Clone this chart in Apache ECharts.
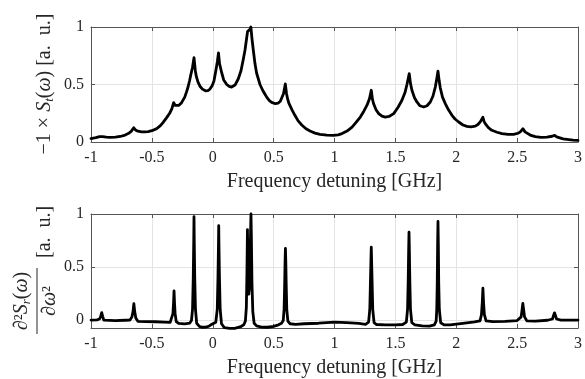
<!DOCTYPE html>
<html>
<head>
<meta charset="utf-8">
<script src="https://cdn.jsdelivr.net/npm/echarts@6.0.0/dist/echarts.min.js"></script>
<style>
html,body{margin:0;padding:0;background:#fff;}
#chart{width:585px;height:379px;}
</style>
</head>
<body>
<div id="chart"></div>
<script>
// ---- Data ----
var topFreq = [-1.0,-0.96,-0.93,-0.917,-0.905,-0.874,-0.844,-0.80,-0.76,-0.72,-0.694,-0.67,-0.649,-0.635,-0.614,-0.585,-0.559,-0.53,-0.50,-0.46,-0.43,-0.409,-0.38,-0.354,-0.337,-0.321,-0.308,-0.298,-0.28,-0.257,-0.23,-0.214,-0.203,-0.19,-0.181,-0.166,-0.154,-0.143,-0.135,-0.121,-0.105,-0.085,-0.06,-0.04,-0.023,-0.005,0.01,0.027,0.038,0.047,0.056,0.074,0.09,0.115,0.135,0.155,0.183,0.21,0.232,0.251,0.265,0.278,0.286,0.292,0.299,0.306,0.313,0.322,0.333,0.347,0.36,0.374,0.388,0.41,0.429,0.443,0.465,0.484,0.515,0.536,0.555,0.566,0.581,0.596,0.606,0.616,0.626,0.651,0.676,0.70,0.731,0.766,0.799,0.84,0.881,0.938,0.99,1.029,1.062,1.103,1.144,1.177,1.212,1.242,1.267,1.287,1.302,1.312,1.322,1.341,1.363,1.39,1.417,1.448,1.486,1.521,1.554,1.579,1.595,1.614,1.624,1.636,1.657,1.677,1.702,1.733,1.76,1.787,1.809,1.828,1.84,1.85,1.86,1.869,1.887,1.91,1.936,1.965,1.99,2.02,2.055,2.088,2.121,2.156,2.178,2.197,2.219,2.228,2.238,2.264,2.292,2.335,2.376,2.425,2.471,2.507,2.526,2.548,2.565,2.581,2.614,2.649,2.696,2.745,2.787,2.808,2.825,2.841,2.877,2.924,2.96,3.0];
var topSignal = [0.03,0.038,0.047,0.056,0.047,0.042,0.041,0.043,0.048,0.06,0.073,0.092,0.124,0.105,0.094,0.088,0.088,0.091,0.098,0.116,0.142,0.168,0.21,0.25,0.285,0.342,0.318,0.31,0.318,0.34,0.39,0.44,0.478,0.535,0.58,0.65,0.734,0.62,0.57,0.52,0.485,0.46,0.445,0.447,0.46,0.49,0.53,0.63,0.7,0.775,0.68,0.6,0.54,0.5,0.483,0.478,0.495,0.55,0.62,0.72,0.8,0.9,0.96,0.975,0.96,0.98,1.0,0.9,0.8,0.68,0.6,0.55,0.5,0.45,0.415,0.39,0.36,0.345,0.333,0.337,0.355,0.372,0.42,0.505,0.42,0.37,0.335,0.28,0.23,0.186,0.148,0.115,0.095,0.077,0.066,0.059,0.057,0.062,0.073,0.095,0.13,0.17,0.217,0.27,0.32,0.375,0.45,0.37,0.33,0.28,0.247,0.225,0.217,0.222,0.247,0.30,0.363,0.43,0.5,0.595,0.51,0.45,0.385,0.348,0.315,0.304,0.315,0.348,0.4,0.478,0.55,0.617,0.53,0.47,0.39,0.334,0.28,0.232,0.2,0.174,0.148,0.136,0.132,0.138,0.152,0.175,0.215,0.18,0.16,0.125,0.102,0.085,0.073,0.066,0.066,0.076,0.088,0.115,0.088,0.073,0.057,0.046,0.041,0.042,0.05,0.058,0.045,0.036,0.027,0.021,0.017,0.014];

var botFreq = [-1.0,-0.95,-0.93,-0.92,-0.912,-0.904,-0.895,-0.88,-0.80,-0.72,-0.68,-0.664,-0.655,-0.648,-0.641,-0.632,-0.615,-0.55,-0.47,-0.40,-0.35,-0.335,-0.327,-0.322,-0.318,-0.314,-0.309,-0.30,-0.28,-0.23,-0.19,-0.175,-0.166,-0.16,-0.156,-0.154,-0.152,-0.148,-0.142,-0.132,-0.11,-0.09,-0.06,-0.035,-0.015,0.025,0.037,0.043,0.047,0.049,0.051,0.055,0.061,0.072,0.095,0.14,0.18,0.225,0.255,0.268,0.276,0.281,0.285,0.289,0.293,0.296,0.301,0.307,0.312,0.314,0.317,0.322,0.329,0.34,0.36,0.40,0.45,0.50,0.54,0.565,0.579,0.586,0.591,0.594,0.597,0.600,0.603,0.608,0.617,0.635,0.68,0.75,0.87,1.0,1.1,1.2,1.255,1.28,1.29,1.295,1.299,1.302,1.305,1.309,1.314,1.325,1.345,1.42,1.5,1.56,1.59,1.6,1.605,1.609,1.612,1.615,1.619,1.624,1.635,1.66,1.72,1.78,1.82,1.835,1.84,1.844,1.847,1.85,1.853,1.856,1.861,1.872,1.9,1.95,2.07,2.15,2.195,2.207,2.214,2.219,2.224,2.231,2.245,2.3,2.4,2.5,2.533,2.541,2.547,2.553,2.561,2.58,2.65,2.75,2.79,2.8,2.807,2.814,2.824,2.86,3.0];
var botSignal = [0.0,0.002,0.01,0.035,0.07,0.035,0.0,-0.006,-0.006,-0.002,0.0,0.03,0.08,0.155,0.08,0.02,-0.012,-0.014,-0.016,-0.02,-0.022,-0.005,0.06,0.16,0.275,0.16,0.06,-0.015,-0.032,-0.037,-0.03,-0.005,0.1,0.4,0.75,0.975,0.75,0.4,0.1,-0.03,-0.06,-0.068,-0.066,-0.06,-0.045,-0.02,0.1,0.4,0.7,0.89,0.7,0.4,0.1,-0.035,-0.072,-0.078,-0.078,-0.065,-0.045,-0.01,0.12,0.45,0.853,0.5,0.28,0.245,0.3,0.6,0.9,1.0,0.8,0.35,0.08,-0.03,-0.055,-0.066,-0.068,-0.06,-0.045,-0.03,-0.005,0.1,0.35,0.55,0.675,0.55,0.35,0.1,-0.01,-0.035,-0.04,-0.035,-0.03,-0.02,-0.025,-0.032,-0.04,-0.02,0.1,0.35,0.55,0.687,0.55,0.35,0.1,-0.025,-0.042,-0.045,-0.045,-0.042,-0.02,0.1,0.35,0.65,0.828,0.65,0.35,0.1,-0.025,-0.045,-0.055,-0.058,-0.045,-0.01,0.1,0.35,0.7,0.93,0.7,0.35,0.1,-0.025,-0.045,-0.045,-0.03,-0.018,-0.008,0.05,0.17,0.3,0.17,0.05,-0.008,-0.015,-0.012,-0.005,0.03,0.1,0.156,0.1,0.03,-0.008,-0.01,-0.002,0.01,0.045,0.068,0.045,0.01,0.0,0.0];

var xTickValues = [-1,-0.5,0,0.5,1,1.5,2,2.5,3];
var yTickValues = [0,0.5,1];
var xTitle = 'Frequency detuning [GHz]';

// ---- Build chart ----
function zip(a,b){ var r=[]; for(var i=0;i<a.length;i++) r.push([a[i],b[i]]); return r; }

var FONT = 'Liberation Serif';
var axisColor = '#555555';
var textColor = '#262626';

function xAx(grid, pos, main){
  return {
    type:'value', gridIndex:grid, position:pos, min:-1, max:3, interval:0.5,
    axisLine:{show:true, onZero:false, lineStyle:{color:axisColor, width:1}},
    axisTick:{show:true, inside:true, length:4, lineStyle:{color:axisColor}},
    axisLabel:{show:main, margin:8, fontFamily:FONT, fontSize:16, color:textColor},
    splitLine:{show:main, lineStyle:{color:'#e3e3e3', width:1}},
    name: main ? xTitle : '', nameLocation:'middle', nameGap:30,
    nameTextStyle:{fontFamily:FONT, fontSize:20, color:textColor}
  };
}
function yAx(grid, pos, main, min){
  var o = {
    type:'value', gridIndex:grid, position:pos, min:min, max:1,
    axisLine:{show:true, onZero:false, lineStyle:{color:axisColor, width:1}},
    axisTick:{show:true, inside:true, length:4, lineStyle:{color:axisColor}, customValues:yTickValues},
    axisLabel:{show:main, margin:7, fontFamily:FONT, fontSize:16, color:textColor, customValues:yTickValues},
    splitLine:{show:main, lineStyle:{color:'#e3e3e3', width:1}}
  };
  if (min === 0) o.interval = 0.5;
  return o;
}

var chart = echarts.init(document.getElementById('chart'), null, {renderer:'canvas'});
chart.setOption({
  animation:false,
  backgroundColor:'#ffffff',
  grid:[
    {left:91, right:7, top:27, height:115},
    {left:91, right:7, top:214, height:115.5}
  ],
  xAxis:[ xAx(0,'bottom',true), xAx(0,'top',false), xAx(1,'bottom',true), xAx(1,'top',false) ],
  yAxis:[ yAx(0,'left',true,0), yAx(0,'right',false,0), yAx(1,'left',true,-0.075), yAx(1,'right',false,-0.075) ],
  series:[
    {type:'line', xAxisIndex:0, yAxisIndex:0, data:zip(topFreq, topSignal), showSymbol:false, symbol:'none', clip:false,
     lineStyle:{color:'#000', width:2.8, join:'round', cap:'round'}},
    {type:'line', xAxisIndex:2, yAxisIndex:2, data:zip(botFreq, botSignal), showSymbol:false, symbol:'none', clip:false,
     lineStyle:{color:'#000', width:2.8, join:'round', cap:'round'}}
  ],
  graphic:[
    {type:'text', x:45, y:84, rotation:Math.PI/2,
     style:{text:'\u22121 \u00d7 {i|S}{sub|t}({i|\u03c9}) [a.  u.]', fontFamily:FONT, fontSize:20, lineHeight:22,
            fill:textColor, align:'center', verticalAlign:'middle',
            rich:{ i:{fontFamily:FONT, fontSize:20, fontStyle:'italic', lineHeight:22, fill:textColor},
                   sub:{fontFamily:FONT, fontSize:13, fontStyle:'italic', lineHeight:13, verticalAlign:'bottom', fill:textColor} }}},
    {type:'group', x:37, y:301, rotation:Math.PI/2, children:[
      {type:'line', shape:{x1:-33, y1:0, x2:33, y2:0}, style:{stroke:textColor, lineWidth:1}},
      {type:'text', x:0, y:-15,
       style:{text:'\u2202\u00b2{i|S}{sub|r}({i|\u03c9})', fontFamily:FONT, fontSize:20, lineHeight:22, fill:textColor,
              align:'center', verticalAlign:'middle',
              rich:{ i:{fontFamily:FONT, fontSize:20, fontStyle:'italic', lineHeight:22, fill:textColor},
                     sub:{fontFamily:FONT, fontSize:13, fontStyle:'italic', lineHeight:13, verticalAlign:'bottom', fill:textColor} }}},
      {type:'text', x:0, y:13,
       style:{text:'\u2202{i|\u03c9}\u00b2', fontFamily:FONT, fontSize:20, lineHeight:22, fill:textColor,
              align:'center', verticalAlign:'middle',
              rich:{ i:{fontFamily:FONT, fontSize:20, fontStyle:'italic', lineHeight:22, fill:textColor} }}},
      {type:'text', x:43, y:8,
       style:{text:'[a.  u.]', fontFamily:FONT, fontSize:20, fill:textColor, align:'left', verticalAlign:'middle'}}
    ]}
  ]
});
</script>
</body>
</html>
